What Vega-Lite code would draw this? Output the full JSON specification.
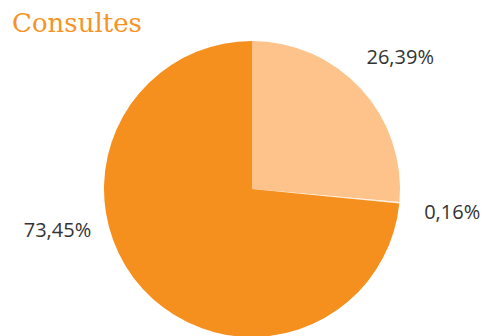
{
  "$schema": "https://vega.github.io/schema/vega-lite/v6.json",
  "width": 464,
  "height": 294,
  "autosize": "none",
  "padding": {"left": 20, "top": 42, "right": 0, "bottom": 0},
  "background": "white",
  "title": {
    "text": "Consultes",
    "anchor": "start",
    "orient": "top",
    "font": "DejaVu Serif",
    "fontSize": 26,
    "fontWeight": "normal",
    "color": "#f59425",
    "baseline": "alphabetic",
    "offset": 11,
    "dx": -8,
    "dy": 28
  },
  "data": {
    "values": [
      {"categoria": "A", "valor": 26.39, "etiqueta": "26,39%", "ordre": 1},
      {"categoria": "B", "valor": 0.16, "etiqueta": "0,16%", "ordre": 2},
      {"categoria": "C", "valor": 73.45, "etiqueta": "73,45%", "ordre": 3}
    ]
  },
  "encoding": {
    "theta": {"field": "valor", "type": "quantitative", "stack": true},
    "order": {"field": "ordre", "type": "quantitative"},
    "color": {
      "field": "categoria",
      "type": "nominal",
      "scale": {"domain": ["A", "B", "C"], "range": ["#fdc38a", "#fdeedd", "#f5901e"]},
      "legend": null
    }
  },
  "layer": [
    {"mark": {"type": "arc", "outerRadius": 148}},
    {
      "transform": [{"filter": "datum.categoria != 'C'"}],
      "mark": {"type": "text", "radius": 201, "dy": 5, "font": "Open Sans", "fontSize": 20, "color": "#333333", "baseline": "middle", "align": "center"},
      "encoding": {"text": {"field": "etiqueta"}, "color": {"value": "#333333"}}
    },
    {
      "transform": [{"filter": "datum.categoria == 'C'"}],
      "mark": {"type": "text", "theta": 4.50, "radius": 199, "font": "Open Sans", "fontSize": 20, "color": "#333333", "baseline": "middle", "align": "center"},
      "encoding": {"theta": null, "text": {"field": "etiqueta"}, "color": {"value": "#333333"}}
    }
  ]
}
